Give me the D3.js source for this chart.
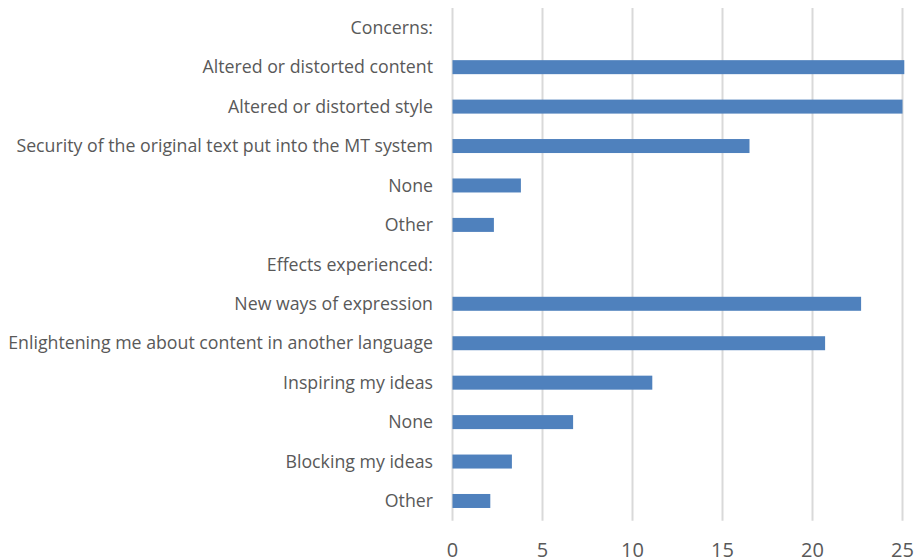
<!DOCTYPE html>
<html>
<head>
<meta charset="utf-8">
<script src="https://cdn.jsdelivr.net/npm/d3@7"></script>
<style>
  html, body { margin: 0; padding: 0; background: #fff; }
  svg text { font-family: "Open Sans", Lato, sans-serif; fill: #595959; }
</style>
</head>
<body>
<svg id="chart" width="917" height="560"></svg>
<script>
// Survey responses: concerns about MT and effects experienced
const categories = [
  "Concerns:",
  "Altered or distorted content",
  "Altered or distorted style",
  "Security of the original text put into the MT system",
  "None",
  "Other",
  "Effects experienced:",
  "New ways of expression",
  "Enlightening me about content in another language",
  "Inspiring my ideas",
  "None",
  "Blocking my ideas",
  "Other"
];
const values = [null, 25.1, 25.0, 16.5, 3.8, 2.3, null, 22.7, 20.7, 11.1, 6.7, 3.3, 2.1];
const xTicks = [0, 5, 10, 15, 20, 25];

const svg = d3.select("#chart");
const plot = { left: 452.5, right: 902.5, top: 8, bottom: 520.7 };
const labelRight = 433, labelLeft = 8;

const rows = categories.map((c, i) => ({ key: i, label: c, value: values[i] }));

const x = d3.scaleLinear().domain([0, 25]).range([plot.left, plot.right]);
const y = d3.scaleBand().domain(rows.map(d => d.key)).range([plot.top, plot.bottom]).paddingInner(0.645).paddingOuter(0.3225);

// vertical gridlines
svg.append("g").selectAll("line").data(xTicks).join("line")
  .attr("x1", d => x(d)).attr("x2", d => x(d))
  .attr("y1", plot.top).attr("y2", plot.bottom)
  .attr("stroke", "#d9d9d9").attr("stroke-width", 2);

// bars
svg.append("g").selectAll("rect").data(rows.filter(d => d.value != null)).join("rect")
  .attr("x", x(0))
  .attr("y", d => y(d.key))
  .attr("width", d => x(d.value) - x(0))
  .attr("height", y.bandwidth())
  .attr("fill", "#4f81bd");

// category labels, sized so the longest one fills the left margin
const labels = svg.append("g").selectAll("text").data(rows).join("text")
  .attr("x", labelRight)
  .attr("y", d => y(d.key) + y.bandwidth() / 2)
  .attr("dy", "0.35em")
  .attr("text-anchor", "end")
  .attr("font-size", 16)
  .text(d => d.label);
const widest = d3.max(labels.nodes(), n => n.getComputedTextLength());
labels.attr("font-size", 16 * (labelRight - labelLeft) / widest);

// x tick labels
svg.append("g").selectAll("text").data(xTicks).join("text")
  .attr("x", d => x(d))
  .attr("y", 557)
  .attr("text-anchor", "middle")
  .attr("font-size", 20)
  .text(d => d);
</script>
</body>
</html>
